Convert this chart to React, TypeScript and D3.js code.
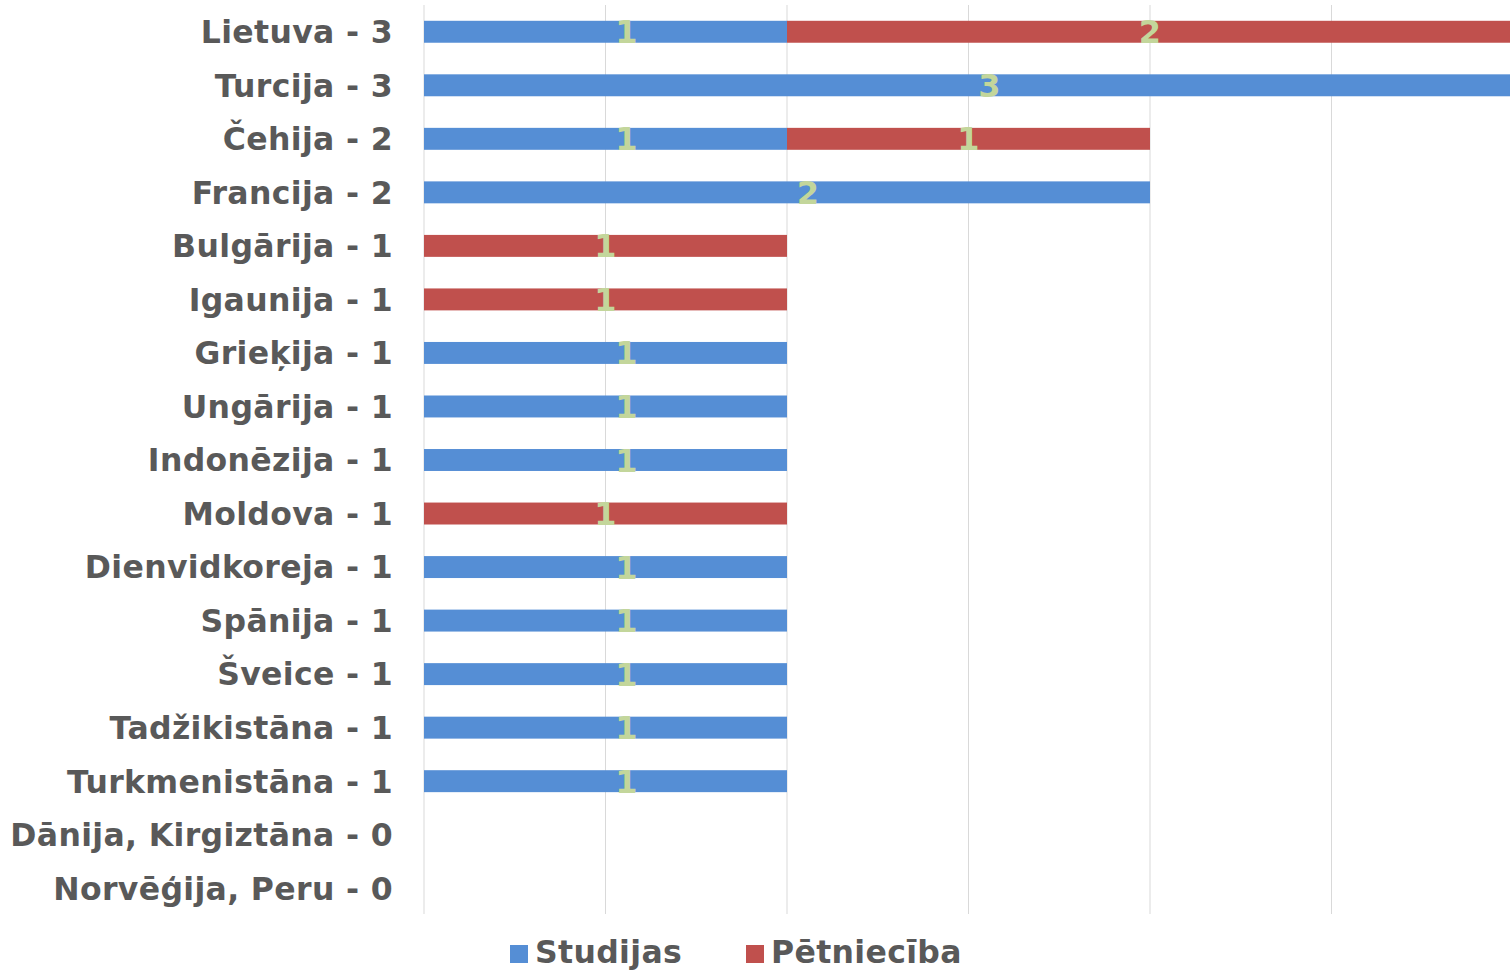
import React from "react";
import * as d3 from "d3";

const categories = [
  "Lietuva - 3",
  "Turcija - 3",
  "Čehija - 2",
  "Francija - 2",
  "Bulgārija - 1",
  "Igaunija - 1",
  "Grieķija - 1",
  "Ungārija - 1",
  "Indonēzija - 1",
  "Moldova - 1",
  "Dienvidkoreja - 1",
  "Spānija - 1",
  "Šveice - 1",
  "Tadžikistāna - 1",
  "Turkmenistāna - 1",
  "Dānija, Kirgiztāna - 0",
  "Norvēģija, Peru - 0",
];
const studijas = [1, 3, 1, 2, 0, 0, 1, 1, 1, 0, 1, 1, 1, 1, 1, 0, 0];
const petnieciba = [2, 0, 1, 0, 1, 1, 0, 0, 0, 1, 0, 0, 0, 0, 0, 0, 0];
const seriesNames = ["Studijas", "Pētniecība"];
const xTicks = [0, 0.5, 1, 1.5, 2, 2.5, 3];

const COLORS = ["#558ED5", "#C0504D"];
const LABEL_COLOR = "#C3D69B";
const TEXT_COLOR = "#595959";
const FONT = "'DejaVu Sans', Verdana, sans-serif";

export default function App() {
  const W = 1510;
  const H = 970;
  const x = d3.scaleLinear().domain([0, 3]).range([424, 1513]);
  const y = d3
    .scaleBand<string>()
    .domain(categories)
    .range([5, 915])
    .paddingInner(0.59)
    .paddingOuter(0.295);

  const rows = categories.map((c, i) => ({ c, s: studijas[i], p: petnieciba[i] }));
  const stack = d3.stack<any>().keys(["s", "p"])(rows as any);

  return (
    <div style={{ position: "absolute", left: 0, top: 0 }}>
      <svg width={W} height={H} style={{ display: "block", background: "#fff" }}>
        {xTicks.map((t) => (
          <line
            key={t}
            x1={x(t)}
            x2={x(t)}
            y1={5}
            y2={914}
            stroke="#D9D9D9"
            strokeWidth={1}
          />
        ))}
        {stack.map((layer, si) => (
          <g key={si}>
            {layer.map((d, i) => {
              const v = d[1] - d[0];
              if (v <= 0) return null;
              const cy = (y(categories[i]) as number) + y.bandwidth() / 2;
              return (
                <g key={i}>
                  <rect
                    x={x(d[0])}
                    y={y(categories[i])}
                    width={x(d[1]) - x(d[0])}
                    height={y.bandwidth()}
                    fill={COLORS[si]}
                  />
                  <text
                    x={(x(d[0]) + x(d[1])) / 2 + (si === 0 ? 21 : 0)}
                    y={cy}
                    dy="0.36em"
                    textAnchor="middle"
                    fontFamily={FONT}
                    fontWeight="bold"
                    fontSize={32}
                    fill={LABEL_COLOR}
                  >
                    {v}
                  </text>
                </g>
              );
            })}
          </g>
        ))}
        {categories.map((c) => (
          <text
            key={c}
            x={393}
            y={(y(c) as number) + y.bandwidth() / 2}
            dy="0.36em"
            textAnchor="end"
            fontFamily={FONT}
            fontWeight="bold"
            fontSize={31.5}
            letterSpacing={0.35}
            fill={TEXT_COLOR}
          >
            {c}
          </text>
        ))}
        <g>
          <rect x={510} y={945} width={18} height={18} fill={COLORS[0]} />
          <text
            x={535}
            y={963}
            fontFamily={FONT}
            fontWeight="bold"
            fontSize={31.5}
            letterSpacing={0.35}
            fill={TEXT_COLOR}
          >
            {seriesNames[0]}
          </text>
          <rect x={746} y={945} width={18} height={18} fill={COLORS[1]} />
          <text
            x={771}
            y={963}
            fontFamily={FONT}
            fontWeight="bold"
            fontSize={31.5}
            letterSpacing={0.35}
            fill={TEXT_COLOR}
          >
            {seriesNames[1]}
          </text>
        </g>
      </svg>
    </div>
  );
}
